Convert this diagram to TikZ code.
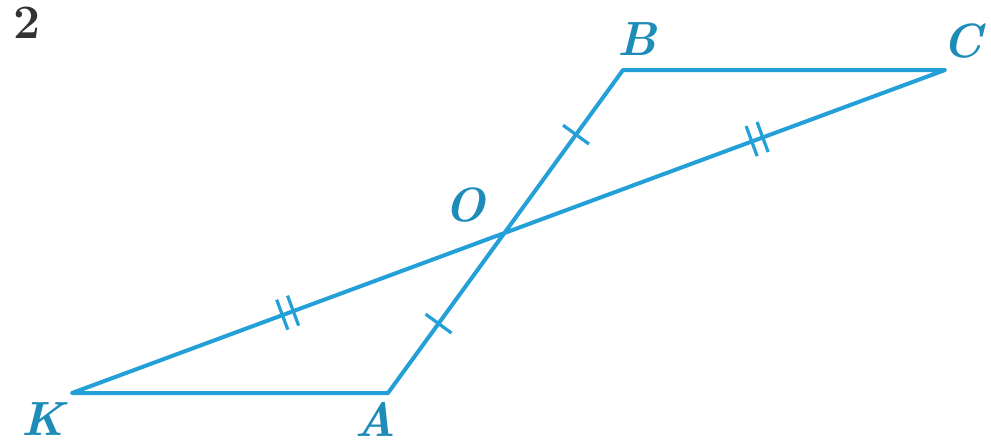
\documentclass[tikz,border=0pt]{standalone}
\usetikzlibrary{calc}
\definecolor{geoblue}{RGB}{35,160,215}
\definecolor{labblue}{RGB}{30,140,185}
\tikzset{
  seg/.style={draw=geoblue, line width=2pt, line join=round},
  tick/.style={draw=geoblue, line width=1.6pt},
  vlab/.style={text=labblue, font=\fontsize{24}{24}\selectfont\bfseries\itshape, inner sep=0pt},
}
\begin{document}
\begin{tikzpicture}[x=0.5pt,y=-0.5pt]
\useasboundingbox (0,0) rectangle (991,446);
\fill[white] (0,0) rectangle (991,446);
\coordinate (B) at (623,70);
\coordinate (C) at (945,70);
\coordinate (K) at (72,393);
\coordinate (A) at (388,393);
\coordinate (O) at ($(B)!0.5!(A)$);
\node[vlab] (lB) at (637,39) {B};
\node[vlab] (lC) at (962,41) {C};
\node[vlab] (lO) at (465,205) {O};
\node[vlab] (lK) at (43,419) {K};
\node[vlab] (lA) at (375,419) {A};
\node[font=\fontsize{24}{24}\selectfont\bfseries, text=black!80, inner sep=0pt] (n2) at (27,23) {2};
\draw[seg] (K) -- (A) -- (B) -- (C) -- cycle;
% single ticks
\coordinate (t1) at ($(O)!0.6!(B)$);
\coordinate (t2) at ($(O)!0.57!(A)$);
\draw[tick] ($(t1)!8pt!90:(B)$) -- ($(t1)!8pt!-90:(B)$);
\draw[tick] ($(t2)!8pt!90:(A)$) -- ($(t2)!8pt!-90:(A)$);
% double ticks
\coordinate (d1a) at ($(O)!0.56!(C)$);
\coordinate (d1b) at ($(O)!0.585!(C)$);
\coordinate (d2a) at ($(O)!0.49!(K)$);
\coordinate (d2b) at ($(O)!0.515!(K)$);
\foreach \p/\q in {d1a/C,d1b/C,d2a/K,d2b/K}{
  \draw[tick] ($(\p)!8pt!90:(\q)$) -- ($(\p)!8pt!-90:(\q)$);
}
\end{tikzpicture}
\end{document}
